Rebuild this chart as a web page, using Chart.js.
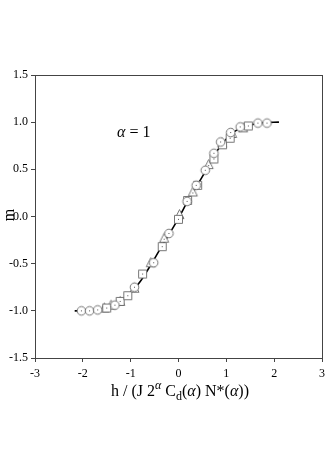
<!DOCTYPE html>
<html>
<head>
<meta charset="utf-8">
<script src="https://cdn.jsdelivr.net/npm/chart.js@4"></script>
<style>
  html, body { margin: 0; padding: 0; background: #fff; }
  #wrap { width: 327px; height: 470px; }
</style>
</head>
<body>
<div id="wrap"><canvas id="chart" width="327" height="470"></canvas></div>
<script>
// ===== data =====
const circleH = [-2.03, -1.86, -1.69, -1.33, -0.92, -0.52, -0.20, 0.18, 0.37, 0.56, 0.74, 0.88, 1.09, 1.29, 1.66, 1.85];
const circleM = [-1.00, -1.00, -0.99, -0.94, -0.75, -0.49, -0.18, 0.16, 0.33, 0.49, 0.67, 0.79, 0.89, 0.95, 0.99, 0.99];

const squareH = [-1.50, -1.22, -1.06, -0.75, -0.34, 0.00, 0.19, 0.40, 0.74, 0.92, 1.08, 1.46];
const squareM = [-0.97, -0.90, -0.84, -0.61, -0.32, -0.03, 0.17, 0.33, 0.61, 0.76, 0.83, 0.96];

const triangleH = [-1.55, -1.41, -1.22, -0.92, -0.58, -0.30, 0.02, 0.30, 0.63, 0.91, 1.12, 1.35];
const triangleM = [-0.97, -0.94, -0.90, -0.76, -0.49, -0.23, 0.02, 0.26, 0.55, 0.78, 0.88, 0.94];

const lineH = [-2.17, -1.8, -1.5, -1.2, -1.0, -0.8, -0.6, -0.4, -0.2, 0.0, 0.2, 0.4, 0.6, 0.8, 1.0, 1.2, 1.5, 1.8, 2.1];
const lineM = [-1.00, -0.995, -0.97, -0.89, -0.81, -0.69, -0.53, -0.36, -0.19, -0.02, 0.17, 0.34, 0.51, 0.69, 0.82, 0.91, 0.97, 0.995, 1.00];

const xTicks = [-3, -2, -1, 0, 1, 2, 3];
const yTicks = [-1.5, -1.0, -0.5, 0.0, 0.5, 1.0, 1.5];

const SERIF = '"Liberation Serif", "DejaVu Serif", serif';
const AXIS_COLOR = '#444';

function pairs(xs, ys) {
    return xs.map((x, i) => ({ x: x, y: ys[i] }));
}

// open markers with a small dot in the middle
function makeMarker(shape) {
    const c = document.createElement('canvas');
    c.width = 13;
    c.height = 13;
    const g = c.getContext('2d');
    g.fillStyle = '#fff';
    g.strokeStyle = '#666';
    g.lineWidth = 0.9;
    g.beginPath();
    if (shape === 'circle') {
        g.arc(6.5, 6.5, 4.3, 0, Math.PI * 2);
    } else if (shape === 'square') {
        g.rect(2.5, 2.5, 8, 8);
    } else {
        g.moveTo(6.5, 1.5);
        g.lineTo(11, 10.5);
        g.lineTo(2, 10.5);
        g.closePath();
    }
    g.fill();
    g.stroke();
    g.fillStyle = '#555';
    g.fillRect(6, shape === 'triangle' ? 7 : 6, 1, 1);
    return c;
}

// frame, titles and the alpha label
const decorPlugin = {
    id: 'decor',
    afterDraw(chart) {
        const ctx = chart.ctx;
        const a = chart.chartArea;
        ctx.save();
        ctx.strokeStyle = AXIS_COLOR;
        ctx.lineWidth = 1;
        ctx.strokeRect(Math.round(a.left) + 0.5, Math.round(a.top) + 0.5,
                       Math.round(a.right - a.left), Math.round(a.bottom - a.top));

        ctx.fillStyle = '#000';
        ctx.textBaseline = 'alphabetic';

        // alpha = 1
        ctx.font = 'italic 16px ' + SERIF;
        ctx.textAlign = 'left';
        ctx.fillText('α', 117, 137);
        let w = ctx.measureText('α').width;
        ctx.font = '16px ' + SERIF;
        ctx.fillText(' = 1', 117 + w, 137);

        // y title
        ctx.save();
        ctx.translate(14, 215);
        ctx.rotate(-Math.PI / 2);
        ctx.font = '16px ' + SERIF;
        ctx.textAlign = 'center';
        ctx.fillText('m', 0, 0);
        ctx.restore();

        // x title with super/subscripts
        const parts = [
            { t: 'h / (J 2', f: '16px ' + SERIF, dy: 0 },
            { t: 'α', f: 'italic 12px ' + SERIF, dy: -7 },
            { t: ' C', f: '16px ' + SERIF, dy: 0 },
            { t: 'd', f: '12px ' + SERIF, dy: 4 },
            { t: '(', f: '16px ' + SERIF, dy: 0 },
            { t: 'α', f: 'italic 16px ' + SERIF, dy: 0 },
            { t: ') N*(', f: '16px ' + SERIF, dy: 0 },
            { t: 'α', f: 'italic 16px ' + SERIF, dy: 0 },
            { t: '))', f: '16px ' + SERIF, dy: 0 }
        ];
        let total = 0;
        parts.forEach(p => { ctx.font = p.f; p.w = ctx.measureText(p.t).width; total += p.w; });
        let x = 180 - total / 2;
        ctx.textAlign = 'left';
        parts.forEach(p => {
            ctx.font = p.f;
            ctx.fillText(p.t, x, 396 + p.dy);
            x += p.w;
        });
        ctx.restore();
    }
};

new Chart(document.getElementById('chart'), {
    type: 'scatter',
    data: {
        datasets: [
            {
                label: 'circles',
                data: pairs(circleH, circleM),
                pointStyle: makeMarker('circle'),
                order: 1
            },
            {
                label: 'squares',
                data: pairs(squareH, squareM),
                pointStyle: makeMarker('square'),
                order: 2
            },
            {
                label: 'triangles',
                data: pairs(triangleH, triangleM),
                pointStyle: makeMarker('triangle'),
                order: 3
            },
            {
                label: 'fit',
                type: 'line',
                data: pairs(lineH, lineM),
                borderColor: '#000',
                borderWidth: 1.6,
                pointRadius: 0,
                tension: 0.4,
                fill: false,
                order: 10
            }
        ]
    },
    options: {
        responsive: false,
        animation: false,
        devicePixelRatio: 1,
        layout: { padding: { left: 0, top: 75, right: 1, bottom: 0 } },
        plugins: {
            legend: { display: false },
            tooltip: { enabled: false }
        },
        scales: {
            x: {
                type: 'linear',
                min: -3,
                max: 3,
                afterFit(scale) {
                    scale.height = 112;
                    scale.paddingLeft = 0;
                    scale.paddingRight = 0;
                },
                afterBuildTicks(scale) { scale.ticks = xTicks.map(v => ({ value: v })); },
                border: { color: AXIS_COLOR },
                grid: { drawOnChartArea: false, tickLength: 4, tickColor: AXIS_COLOR },
                ticks: {
                    color: '#000',
                    padding: 5,
                    maxRotation: 0,
                    font: { family: SERIF, size: 12 },
                    callback: v => String(v)
                }
            },
            y: {
                type: 'linear',
                min: -1.5,
                max: 1.5,
                afterFit(scale) {
                    scale.width = 35;
                    scale.paddingTop = 0;
                    scale.paddingBottom = 0;
                },
                afterBuildTicks(scale) { scale.ticks = yTicks.map(v => ({ value: v })); },
                border: { color: AXIS_COLOR },
                grid: { drawOnChartArea: false, tickLength: 4, tickColor: AXIS_COLOR },
                ticks: {
                    color: '#000',
                    padding: 3,
                    font: { family: SERIF, size: 12 },
                    callback: v => v.toFixed(1)
                }
            }
        }
    },
    plugins: [decorPlugin]
});
</script>
</body>
</html>
